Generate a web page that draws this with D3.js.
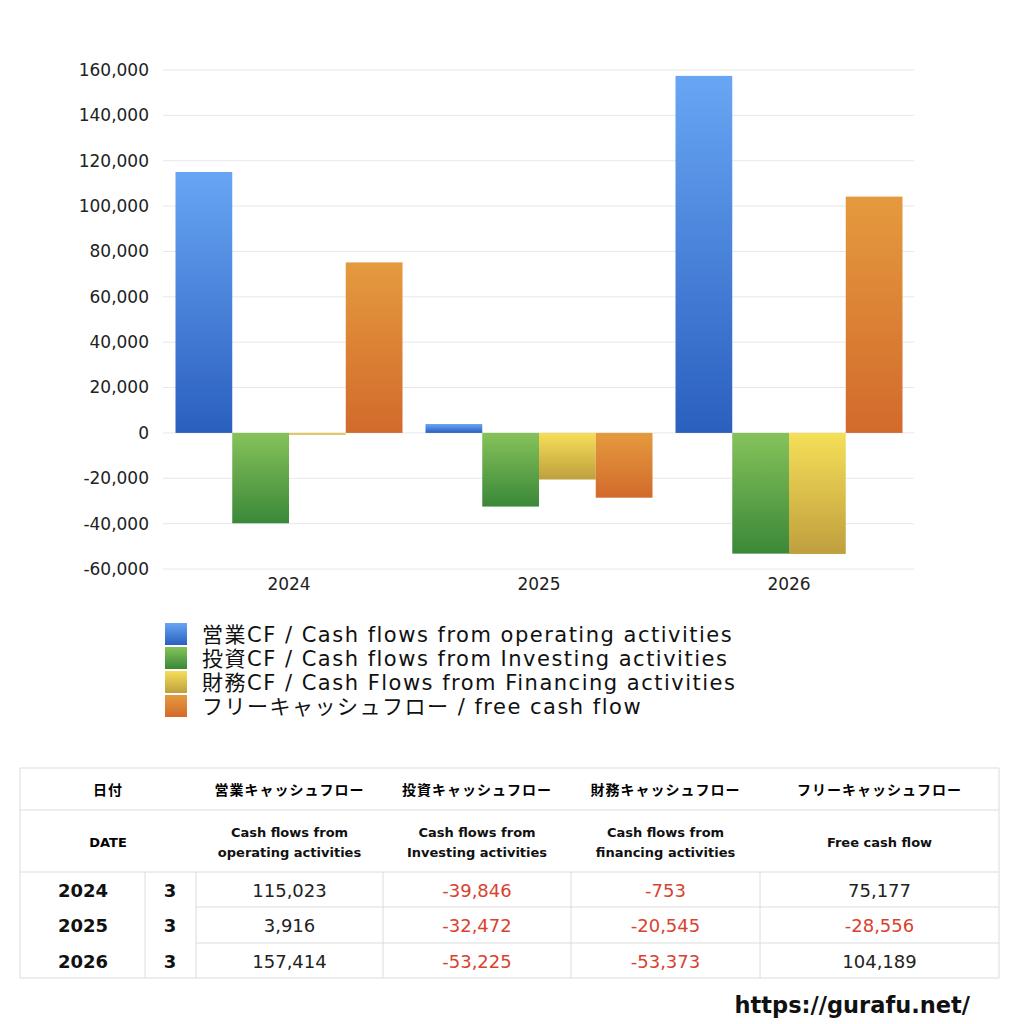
<!DOCTYPE html>
<html><head><meta charset="utf-8">
<script src="https://cdn.jsdelivr.net/npm/d3@7"></script>
<style>
body{margin:0;background:#fff;}
svg{display:block;font-family:"DejaVu Sans","Noto Sans CJK JP",sans-serif;}
</style></head><body>
<svg id="c" width="1024" height="1024"></svg>
<script>
const years = ["2024","2025","2026"];
const months = ["3","3","3"];
const operatingCF = [115023, 3916, 157414];
const investingCF = [-39846, -32472, -53225];
const financingCF = [-753, -20545, -53373];
const freeCF = [75177, -28556, 104189];
const yTicks = [-60000,-40000,-20000,0,20000,40000,60000,80000,100000,120000,140000,160000];
const seriesNames = ["営業CF / Cash flows from operating activities","投資CF / Cash flows from Investing activities","財務CF / Cash Flows from Financing activities","フリーキャッシュフロー / free cash flow"];
const headJa = ["営業キャッシュフロー","投資キャッシュフロー","財務キャッシュフロー","フリーキャッシュフロー"];
const headEn = [["Cash flows from","operating activities"],["Cash flows from","Investing activities"],["Cash flows from","financing activities"],["Free cash flow"]];

const series = [operatingCF, investingCF, financingCF, freeCF];
const grads = [["#68a6f4","#2b5fbf"],["#86c25a","#3a8838"],["#f5df58","#bf9f3e"],["#e59a3e","#d26a2c"]];

const loc = d3.formatLocale({decimal:".",thousands:",",grouping:[3],currency:["",""],minus:"-"});
const fmt = loc.format(",");

const svg = d3.select("#c");
const defs = svg.append("defs");
grads.forEach((g,i)=>{
  const lg = defs.append("linearGradient").attr("id","g"+i).attr("x1",0).attr("y1",0).attr("x2",0).attr("y2",1);
  lg.append("stop").attr("offset","0%").attr("stop-color",g[0]);
  lg.append("stop").attr("offset","100%").attr("stop-color",g[1]);
});

const L=164, R=914;
const y = d3.scaleLinear().domain([-60000,160000]).range([569,70]);
const x0 = d3.scaleBand().domain(years).range([L,R]).paddingInner(0.092).paddingOuter(0.046);
const x1 = d3.scaleBand().domain(d3.range(4)).range([0,x0.bandwidth()]);

// grid
svg.append("g").selectAll("line").data(yTicks).join("line")
  .attr("x1",L-1).attr("x2",R).attr("y1",d=>y(d)).attr("y2",d=>y(d))
  .attr("stroke","#e8e8e8").attr("stroke-width",1);

const yAxis = svg.append("g").attr("transform",`translate(${L},0)`)
  .call(d3.axisLeft(y).tickValues(yTicks).tickSize(0).tickPadding(15).tickFormat(fmt));
yAxis.select(".domain").remove();
yAxis.selectAll("text").attr("font-size",17).attr("fill","#222").attr("font-family","'DejaVu Sans',sans-serif");

const xAxis = svg.append("g").attr("transform",`translate(0,569)`)
  .call(d3.axisBottom(x0).tickSize(0).tickPadding(9));
xAxis.select(".domain").remove();
xAxis.selectAll("text").attr("font-size",17).attr("fill","#222").attr("font-family","'DejaVu Sans',sans-serif");

const groups = svg.append("g").selectAll("g").data(years).join("g")
  .attr("transform",d=>`translate(${x0(d)},0)`);
groups.selectAll("rect").data((d,i)=>series.map((s,k)=>({k,v:s[i]}))).join("rect")
  .attr("x",d=>x1(d.k)).attr("width",x1.bandwidth())
  .attr("y",d=>y(Math.max(0,d.v))).attr("height",d=>Math.max(1,Math.abs(y(d.v)-y(0))))
  .attr("fill",d=>`url(#g${d.k})`);

// legend
const lg = svg.append("g");
seriesNames.forEach((n,i)=>{
  const yy = 634 + i*24;
  lg.append("rect").attr("x",165).attr("y",yy-11).attr("width",22).attr("height",22).attr("fill",`url(#g${i})`);
  lg.append("text").attr("x",202).attr("y",yy+8).attr("font-size",21).attr("letter-spacing",1.5).attr("fill","#111").text(n);
});

// table
const tb = svg.append("g");
const colX = [20,145,196,383,571,760,999];
const rowY = [768,810,872,907,943,978];
const line = (a,b,c,d)=>tb.append("line").attr("x1",a).attr("y1",b).attr("x2",c).attr("y2",d).attr("stroke","#dcdcdc").attr("stroke-width",1);
line(20,768,999,768); line(20,810,999,810); line(20,872,999,872); line(20,978,999,978);
line(196,907,999,907); line(196,943,999,943);
line(20,768,20,978); line(999,768,999,978);
[145,196,383,571,760].forEach(cx=>line(cx,872,cx,978));

tb.append("text").attr("x",108).attr("y",795).attr("text-anchor","middle").attr("font-size",14).attr("font-weight","bold").attr("letter-spacing",1).text("日付");
tb.append("text").attr("x",108).attr("y",847).attr("text-anchor","middle").attr("font-size",13).attr("font-weight","bold").text("DATE");
headJa.forEach((h,i)=>{
  const cx = (colX[i+2]+colX[i+3])/2;
  tb.append("text").attr("x",cx).attr("y",795).attr("text-anchor","middle").attr("font-size",14).attr("font-weight","bold").attr("letter-spacing",1).text(h);
  const en = headEn[i];
  if(en.length===2){
    tb.append("text").attr("x",cx).attr("y",837).attr("text-anchor","middle").attr("font-size",13).attr("font-weight","bold").attr("fill","#111").text(en[0]);
    tb.append("text").attr("x",cx).attr("y",857).attr("text-anchor","middle").attr("font-size",13).attr("font-weight","bold").attr("fill","#111").text(en[1]);
  } else {
    tb.append("text").attr("x",cx).attr("y",847).attr("text-anchor","middle").attr("font-size",13).attr("font-weight","bold").attr("fill","#111").text(en[0]);
  }
});
years.forEach((yr,r)=>{
  const cy = (rowY[r+2]+rowY[r+3])/2 + 7;
  tb.append("text").attr("x",83).attr("y",cy).attr("text-anchor","middle").attr("font-size",18).attr("font-weight","bold").attr("fill","#111").text(yr);
  tb.append("text").attr("x",170).attr("y",cy).attr("text-anchor","middle").attr("font-size",18).attr("font-weight","bold").attr("fill","#111").text(months[r]);
  series.forEach((s,k)=>{
    const cx = (colX[k+2]+colX[k+3])/2;
    tb.append("text").attr("x",cx).attr("y",cy).attr("text-anchor","middle").attr("font-size",18)
      .attr("fill",s[r]<0?"#d9422e":"#222").text(fmt(s[r]));
  });
});

svg.append("text").attr("x",970).attr("y",1013).attr("text-anchor","end").attr("font-size",22.5).attr("font-weight","bold").attr("fill","#111").text("https://gurafu.net/");
</script></body></html>
